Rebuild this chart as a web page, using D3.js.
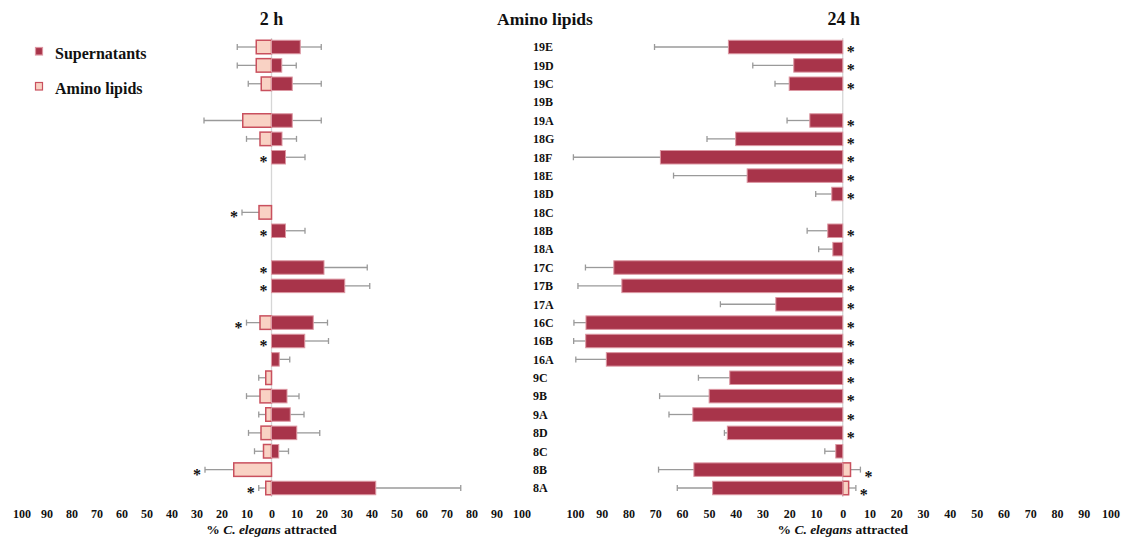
<!DOCTYPE html>
<html>
<head>
<meta charset="utf-8">
<script src="https://cdn.jsdelivr.net/npm/d3@7"></script>
<style>
  body { margin: 0; background: #fff; }
</style>
</head>
<body>
<svg id="chart" width="1127" height="539"></svg>
<script>
// Compounds, top to bottom
const categories = ["19E","19D","19C","19B","19A","18G","18F","18E","18D","18C","18B","18A",
  "17C","17B","17A","16C","16B","16A","9C","9B","9A","8D","8C","8B","8A"];

// 2 h: % C. elegans attracted (mean) and error
const sup2h      = [11.5, 4.1, 8.3, null, 8.3, 4.2, 5.6, null, null, null, 5.6, null,
  21, 29.3, null, 16.7, 13.3, 3.1, null, 6.2, 7.5, 10.1, 2.9, null, 41.7];
const sup2hErr   = [8.4, 5.8, 11.6, null, 11.6, 5.8, 7.8, null, null, null, 7.8, null,
  17.3, 10, null, 5.7, 9.5, 4.2, null, 4.8, 5.5, 9.2, 3.9, null, 34];
const amino2h    = [6.1, 6.1, 4.1, null, 11.5, 4.6, null, null, null, 5, null, null,
  null, null, null, 4.6, null, null, 2.3, 4.6, 2.3, 4.2, 3.2, 15.1, 2.3];
const amino2hErr = [7.6, 7.6, 5.2, null, 15.5, 5.4, null, null, null, 6.8, null, null,
  null, null, null, 5.4, null, null, 2.8, 5.4, 2.8, 5, 3.6, 11.5, 2.8];
const sig2h = ["18F","18C","18B","17C","17B","16C","16B","8B","8A"];

// 24 h
const sup24h      = [42.7, 18.3, 20, null, 12.3, 40, 68.1, 35.7, 4.1, null, 5.6, 3.7,
  85.5, 82.5, 25, 95.9, 96, 88.3, 42.2, 49.9, 56, 43.1, 2.6, 55.6, 48.6];
const sup24hErr   = [27.6, 15.3, 5.3, null, 8.5, 10.7, 32.5, 27.5, 6, null, 7.7, 5.3,
  10.6, 16.4, 20.7, 4.5, 4.5, 11.4, 11.7, 18.5, 8.9, 1.1, 4.1, 13.2, 13.2];
const amino24h    = [null, null, null, null, null, null, null, null, null, null, null, null,
  null, null, null, null, null, null, null, null, null, null, null, 2.9, 2.2];
const amino24hErr = [null, null, null, null, null, null, null, null, null, null, null, null,
  null, null, null, null, null, null, null, null, null, null, null, 3.7, 2.7];
const sig24h = ["19E","19D","19C","19A","18G","18F","18E","18D","18B","17C","17B","17A",
  "16C","16B","16A","9C","9B","9A","8D","8B","8A"];

const tickValues = d3.range(-100, 101, 10);
const seriesNames = ["Supernatants", "Amino lipids"];

const FONT = "'Liberation Serif', 'Times New Roman', serif";
const COL_SUP = "#a8344a", COL_SUP_EDGE = "#dc97a2";
const COL_AMI = "#f9d2c4", COL_AMI_EDGE = "#c9505e";
const COL_ERR = "#9a9a9a";

const svg = d3.select("#chart");
const y = d3.scalePoint().domain(categories).range([47, 488]);
const barH = 13.5;

function label(sel, size) {
  return sel.style("font-family", FONT).style("font-weight", "bold")
    .style("font-size", size + "px").attr("fill", "#111");
}

function drawPanel(opt) {
  const x = d3.scaleLinear().domain([-100, 100]).range(opt.range);
  const g = svg.append("g");

  // zero line
  g.append("line")
    .attr("x1", x(0)).attr("x2", x(0))
    .attr("y1", 38).attr("y2", 497)
    .attr("stroke", "#d6d6d6").attr("stroke-width", 1.3);

  const rows = categories.map((c, i) => ({
    cat: c, sup: opt.sup[i], supErr: opt.supErr[i], ami: opt.ami[i], amiErr: opt.amiErr[i]
  }));

  function series(key, errKey, dir, fill, edge, sw) {
    const data = rows.filter(d => d[key] != null);
    // error whiskers
    data.forEach(d => {
      const x0 = x(dir * d[key]), x1 = x(dir * (d[key] + d[errKey]));
      const cy = y(d.cat);
      g.append("line").attr("x1", x0).attr("x2", x1).attr("y1", cy).attr("y2", cy)
        .attr("stroke", COL_ERR).attr("stroke-width", 1.3);
      g.append("line").attr("x1", x1).attr("x2", x1).attr("y1", cy - 3).attr("y2", cy + 3)
        .attr("stroke", COL_ERR).attr("stroke-width", 1.3);
    });
    g.selectAll(null).data(data).join("rect")
      .attr("x", d => Math.min(x(0), x(dir * d[key])))
      .attr("width", d => Math.abs(x(dir * d[key]) - x(0)))
      .attr("y", d => y(d.cat) - barH / 2)
      .attr("height", barH)
      .attr("fill", fill).attr("stroke", edge).attr("stroke-width", sw);
  }
  series("ami", "amiErr", opt.amiDir, COL_AMI, COL_AMI_EDGE, 1.5);
  series("sup", "supErr", opt.supDir, COL_SUP, COL_SUP_EDGE, 1);

  // significance marks
  rows.filter(d => opt.sig.includes(d.cat)).forEach(d => {
    let edge = 0;
    if (d.ami != null) edge = opt.amiDir * (d.ami + d.amiErr);
    const px = opt.sigSide < 0 ? Math.min(x(0), x(edge)) - 8 : Math.max(x(0), x(edge)) + 8;
    const dy = (opt.sigSide > 0 && d.ami != null) ? 3 : 1;
    label(g.append("text"), 16).attr("x", px).attr("y", y(d.cat) + 9 + dy)
      .attr("text-anchor", "middle").text("*");
  });

  // axis
  const axis = d3.axisBottom(x).tickValues(tickValues).tickSize(0)
    .tickFormat(v => Math.abs(v));
  const ag = g.append("g").attr("transform", "translate(0,505)").call(axis);
  ag.select(".domain").remove();
  label(ag.selectAll("text"), 12).attr("dy", 0).attr("y", 13);

  const t = label(g.append("text"), 13.5).attr("x", x(0)).attr("y", 534)
    .attr("text-anchor", "middle");
  t.append("tspan").text("% ");
  t.append("tspan").style("font-style", "italic").text("C. elegans");
  t.append("tspan").text(" attracted");

  label(g.append("text"), 18).attr("x", x(0) + opt.titleDx).attr("y", 25)
    .attr("text-anchor", "middle").text(opt.title);
}

drawPanel({ range: [21.5, 521.5], sup: sup2h, supErr: sup2hErr, ami: amino2h, amiErr: amino2hErr,
  supDir: 1, amiDir: -1, sig: sig2h, sigSide: -1, title: "2 h", titleDx: 0 });
drawPanel({ range: [575, 1110.5], sup: sup24h, supErr: sup24hErr, ami: amino24h, amiErr: amino24hErr,
  supDir: -1, amiDir: 1, sig: sig24h, sigSide: 1, title: "24 h", titleDx: 1 });

// compound labels and middle title
label(svg.append("text"), 17.5).attr("x", 545).attr("y", 25).attr("text-anchor", "middle")
  .text("Amino lipids");
label(svg.selectAll(null).data(categories).join("text"), 12)
  .attr("x", 533).attr("y", d => y(d) + 4.3)
  .text(d => d);

// legend
const legend = svg.append("g");
seriesNames.forEach((name, i) => {
  const ly = 47 + i * 35;
  legend.append("rect").attr("x", 35.5).attr("y", ly + 0.5).attr("width", 7).attr("height", 7.5)
    .attr("fill", i === 0 ? COL_SUP : COL_AMI)
    .attr("stroke", i === 0 ? COL_SUP_EDGE : COL_AMI_EDGE).attr("stroke-width", 1.2);
  label(legend.append("text"), 16).attr("x", 55).attr("y", ly + 12).text(name);
});
</script>
</body>
</html>
